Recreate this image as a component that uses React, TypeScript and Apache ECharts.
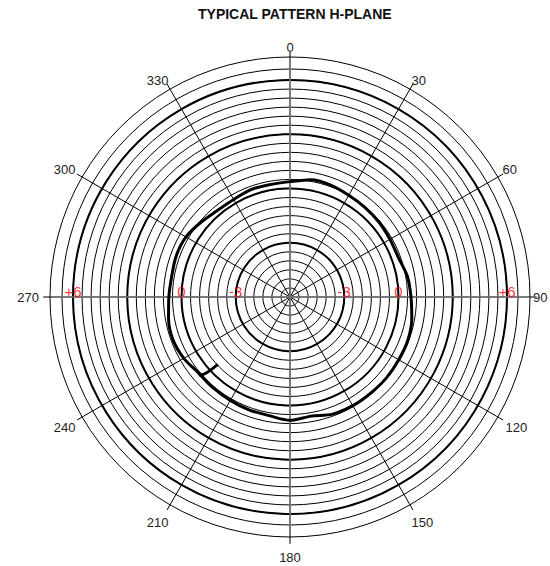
import React, { useEffect, useRef } from 'react';
import * as echarts from 'echarts';

const FONT = '"Liberation Sans", Arial, Helvetica, sans-serif';

const titleText = 'TYPICAL PATTERN H-PLANE';

// radial scale (dB)
const ringMin = -6;
const ringMax = 6;
const ringStep = 0.5;
const majorStep = 3;

// angle scale (degrees)
const angleStep = 30;
const mainAxisStep = 90;

// measured pattern: small hook where the sweep starts, then the sweep
const hookAngles = [227, 229];
const hookDb = [-0.54, 0.59];
const patternAngles = [
  230, 240, 250, 260, 270, 280, 290, 300, 310, 320, 330, 340, 350,
  0, 10, 20, 30, 40, 50, 60, 70, 80, 90, 100, 110, 120, 130, 140,
  150, 160, 170, 180, 190, 200, 210, 220, 230,
];
const patternDb = [
  0.57, 0.78, 0.89, 0.82, 0.7, 0.64, 0.69, 0.64, 0.43, 0.25, 0.23, 0.32, 0.31,
  0.38, 0.59, 0.59, 0.5, 0.46, 0.43, 0.38, 0.38, 0.59, 0.69, 0.84, 0.94, 0.94, 0.96, 0.94,
  0.94, 0.89, 0.69, 0.82, 0.66, 0.64, 0.6, 0.58, 0.57,
];

// red level labels on the horizontal axis
const levelAngles = [270, 270, 270, 90, 90, 90];
const levelDb = [6, 0, -3, -3, 0, 6];
const levelText = ['+6', '0', '-3', '-3', '0', '+6'];

// per-label offsets for the angle tick labels (style only)
const anglePad: Record<number, number[]> = {
  0: [0, 0, 0, 0],
  30: [0, 0, 0, 0],
  60: [0, 0, 0, 2],
  90: [0, 0, 0, 0],
  120: [2, 0, 0, 5],
  150: [9, 0, 0, 0],
  180: [11, 0, 0, 0],
  210: [9, 0, 0, 0],
  240: [2, 4, 0, 0],
  270: [0, 8, 0, 0],
  300: [0, 4, 0, 0],
  330: [0, 0, 0, 0],
};

export default function App() {
  const ref = useRef<HTMLDivElement>(null);

  useEffect(() => {
    if (!ref.current) return;
    const chart = echarts.init(ref.current, undefined, { renderer: 'svg' });

    const lineData: number[][] = [];
    hookAngles.forEach((a, i) => lineData.push([hookDb[i], a]));
    patternAngles.forEach((a, i) => lineData.push([patternDb[i], a]));

    const levelData = levelAngles.map((a, i) => ({
      value: [levelDb[i], a],
      name: levelText[i],
    }));

    const rich: Record<string, any> = {};
    Object.keys(anglePad).forEach((k) => {
      rich['k' + k] = {
        fontSize: 13,
        fontFamily: FONT,
        color: '#222',
        padding: anglePad[Number(k)],
      };
    });

    const center = [290, 297];
    const R = 240; // outer frame circle
    const Rscale = 217; // +6 dB ring
    const Rextra = 228; // extra ring between +6 and the frame

    const hiddenAxis = {
      axisLine: { show: false },
      axisTick: { show: false },
      axisLabel: { show: false },
      splitLine: { show: false },
    };

    const option: any = {
      animation: false,
      backgroundColor: '#ffffff',
      title: {
        text: titleText,
        left: 193,
        top: 2,
        textStyle: { fontSize: 14, fontWeight: 'bold', color: '#111', fontFamily: FONT },
      },
      polar: [
        { center, radius: R },
        { center, radius: Rscale },
        { center, radius: Rscale },
        { center, radius: Rextra },
        { center, radius: R },
      ],
      radiusAxis: [
        { polarIndex: 0, type: 'value', min: 0, max: 1, ...hiddenAxis },
        {
          polarIndex: 1,
          type: 'value',
          min: ringMin,
          max: ringMax,
          interval: ringStep,
          axisLine: { show: false },
          axisTick: { show: false },
          axisLabel: { show: false },
          splitLine: { show: true, lineStyle: { color: '#000', width: 1 } },
        },
        {
          polarIndex: 2,
          type: 'value',
          min: ringMin,
          max: ringMax,
          interval: majorStep,
          axisLine: { show: false },
          axisTick: { show: false },
          axisLabel: { show: false },
          splitLine: { show: true, lineStyle: { color: '#000', width: 2 } },
        },
        {
          polarIndex: 3,
          type: 'value',
          min: 0,
          max: 1,
          interval: 1,
          axisLine: { show: false },
          axisTick: { show: false },
          axisLabel: { show: false },
          splitLine: { show: true, lineStyle: { color: '#000', width: 1 } },
        },
        { polarIndex: 4, type: 'value', min: 0, max: 1, ...hiddenAxis },
      ],
      angleAxis: [
        {
          polarIndex: 0,
          type: 'value',
          min: 0,
          max: 360,
          interval: angleStep,
          startAngle: 90,
          clockwise: true,
          axisLine: { show: true, lineStyle: { color: '#000', width: 1 } },
          axisTick: { show: true, length: 6, lineStyle: { color: '#000', width: 1 } },
          axisLabel: {
            show: true,
            margin: 3,
            fontSize: 13,
            fontFamily: FONT,
            color: '#222',
            formatter: (v: number) => `{k${v}|${v}}`,
            rich,
          },
          splitLine: { show: true, lineStyle: { color: '#000', width: 1 } },
        },
        { polarIndex: 1, type: 'value', min: 0, max: 360, startAngle: 90, clockwise: true, ...hiddenAxis },
        { polarIndex: 2, type: 'value', min: 0, max: 360, startAngle: 90, clockwise: true, ...hiddenAxis },
        { polarIndex: 3, type: 'value', min: 0, max: 360, startAngle: 90, clockwise: true, ...hiddenAxis },
        {
          polarIndex: 4,
          type: 'value',
          min: 0,
          max: 360,
          interval: mainAxisStep,
          startAngle: 90,
          clockwise: true,
          axisLine: { show: false },
          axisTick: { show: true, length: 7, lineStyle: { color: '#7a7a7a', width: 1.6 } },
          axisLabel: { show: false },
          splitLine: { show: true, lineStyle: { color: '#7a7a7a', width: 1.6 } },
        },
      ],
      series: [
        {
          type: 'line',
          coordinateSystem: 'polar',
          polarIndex: 1,
          data: lineData,
          symbol: 'none',
          smooth: 0.3,
          lineStyle: { color: '#000', width: 3 },
          z: 5,
        },
        {
          type: 'scatter',
          coordinateSystem: 'polar',
          polarIndex: 1,
          data: levelData,
          symbolSize: 0,
          z: 6,
          label: {
            show: true,
            position: 'top',
            distance: 0,
            offset: [0, 2],
            formatter: '{b}',
            color: '#ff0000',
            fontSize: 15,
            fontFamily: FONT,
          },
        },
      ],
    };

    chart.setOption(option);
    return () => chart.dispose();
  }, []);

  return (
    <div
      ref={ref}
      style={{ position: 'absolute', left: 0, top: 0, width: 550, height: 566, background: '#fff' }}
    />
  );
}
